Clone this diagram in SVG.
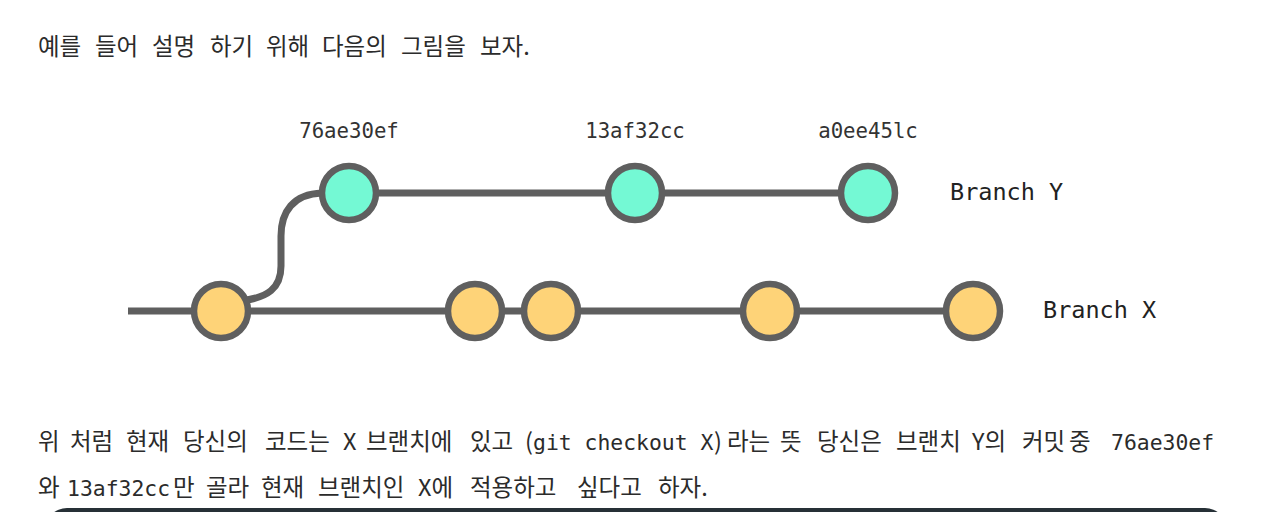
<svg xmlns="http://www.w3.org/2000/svg" width="1283" height="512" viewBox="0 0 1283 512">
<style>
.kr{font-family:"Noto Sans CJK KR","Noto Sans",sans-serif;font-size:23.5px;fill:#2b2b2b}
.code{font-family:"DejaVu Sans Mono","Liberation Mono",monospace;font-size:21.4px;fill:#2b2b2b}
.lbl{font-family:"DejaVu Sans Mono","Liberation Mono",monospace;font-size:20.7px;fill:#333;text-anchor:middle}
.br{font-family:"DejaVu Sans Mono","Liberation Mono",monospace;font-size:23.5px;fill:#222}
.ln{stroke:#5f5f5f;stroke-width:7;fill:none}
.x{fill:#fed378;stroke:#5f5f5f;stroke-width:6.5}
.y{fill:#74f9d4;stroke:#5f5f5f;stroke-width:6.5}
</style>
<rect width="1283" height="512" fill="#fff"/>
<text class="kr" y="55"><tspan x="38">예를</tspan><tspan x="95">들어</tspan><tspan x="152">설명</tspan><tspan x="210">하기</tspan><tspan x="266">위해</tspan><tspan x="322">다음의</tspan><tspan x="401">그림을</tspan><tspan x="480">보자.</tspan></text>
<g id="connectors">
<line class="ln" x1="128" y1="311" x2="973" y2="311"/>
<line class="ln" x1="349" y1="193" x2="868" y2="193"/>
<path class="ln" d="M 240 301 C 268 298, 281 288, 281 266 L 281 236 C 281 212, 293 194, 322 193"/>
</g>
<g id="x1"><circle class="x" cx="221" cy="311" r="27"/></g>
<g id="x2"><circle class="x" cx="475" cy="311" r="27"/></g>
<g id="x3"><circle class="x" cx="551" cy="311" r="27"/></g>
<g id="x4"><circle class="x" cx="770" cy="311" r="27"/></g>
<g id="x5"><circle class="x" cx="973" cy="311" r="27"/></g>
<g id="y1"><circle class="y" cx="349" cy="193" r="27"/><text class="lbl" x="349" y="138">76ae30ef</text></g>
<g id="y2"><circle class="y" cx="635" cy="193" r="27"/><text class="lbl" x="635" y="138">13af32cc</text></g>
<g id="y3"><circle class="y" cx="868" cy="193" r="27"/><text class="lbl" x="868" y="138">a0ee45lc</text></g>
<g id="branchY"><text class="br" x="950" y="200">Branch Y</text></g>
<g id="branchX"><text class="br" x="1043" y="318">Branch X</text></g>
<text class="kr" y="450"><tspan x="38">위</tspan><tspan x="70">처럼</tspan><tspan x="126">현재</tspan><tspan x="183">당신의</tspan><tspan x="265">코드는</tspan><tspan x="343">X</tspan><tspan x="366">브랜치에</tspan><tspan x="470">있고</tspan><tspan x="525">(</tspan><tspan class="code" x="533">git checkout X</tspan><tspan x="714">)</tspan><tspan x="727">라는</tspan><tspan x="780">뜻</tspan><tspan x="817">당신은</tspan><tspan x="896">브랜치</tspan><tspan x="972">Y의</tspan><tspan x="1022">커밋</tspan><tspan x="1069">중</tspan><tspan class="code" x="1111">76ae30ef</tspan></text>
<text class="kr" y="495.5"><tspan x="38">와</tspan><tspan class="code" x="67">13af32cc</tspan><tspan x="173">만</tspan><tspan x="206">골라</tspan><tspan x="261">현재</tspan><tspan x="318">브랜치인</tspan><tspan x="418">X에</tspan><tspan x="470">적용하고</tspan><tspan x="577">싶다고</tspan><tspan x="658">하자.</tspan></text>
<rect x="45" y="508" width="1182" height="60" rx="22" fill="#263036"/>
</svg>
